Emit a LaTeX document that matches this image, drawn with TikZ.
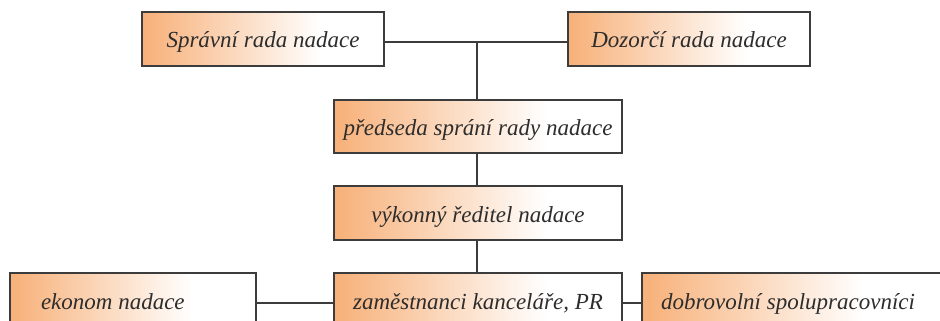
\documentclass[tikz,border=0pt]{standalone}
\usepackage{fontspec}
\setmainfont{Liberation Serif}
\usetikzlibrary{backgrounds}
\definecolor{boxorange}{RGB}{247,176,120}
\definecolor{edgegray}{RGB}{60,60,60}
\definecolor{textgray}{RGB}{45,45,45}
\pgfdeclarehorizontalshading{boxfade}{100bp}{color(0bp)=(boxorange); color(25bp)=(boxorange); color(62bp)=(white); color(100bp)=(white)}
\begin{document}
\begin{tikzpicture}[x=1pt,y=-1pt,
  orgbox/.style={draw=edgegray, line width=1.2pt, shading=boxfade, rectangle,
    minimum height=54pt, inner sep=0pt, text=textgray,
    font=\fontsize{23}{27}\selectfont\itshape, text height=18pt, text depth=0pt},
  link/.style={draw=edgegray, line width=1.2pt}]
\useasboundingbox (0,0) rectangle (940,321);
\clip (0,0) rectangle (940,321);
\node[orgbox, minimum width=242pt] (spr) at (263,39) {Správní rada nadace};
\node[orgbox, minimum width=242pt] (doz) at (689,39) {Dozorčí rada nadace};
\node[orgbox, minimum width=288pt, minimum height=53pt] (pre) at (478,126.5) {předseda sprání rady nadace};
\node[orgbox, minimum width=288pt] (red) at (478,213) {výkonný ředitel nadace};
\node[orgbox, minimum width=288pt] (zam) at (478,300) {zaměstnanci kanceláře, PR};
\node[orgbox, inner xsep=31pt] (eko) at (133,300) {\makebox[184pt][l]{ekonom nadace}};
\node[orgbox, inner xsep=19pt] (dob) at (792,300) {\makebox[262pt][l]{dobrovolní spolupracovníci}};
\coordinate (j) at (477,42);
\begin{scope}[on background layer]
\draw[link] ([yshift=-3pt]spr.east) -- ([yshift=-3pt]doz.west);
\draw[link] (j) -- (j |- zam.north);
\end{scope}
\draw[link] ([yshift=-3pt]eko.east) -- ([yshift=-3pt]zam.west);
\draw[link] ([yshift=-3pt]zam.east) -- ([yshift=-3pt]dob.west);
\end{tikzpicture}
\end{document}
